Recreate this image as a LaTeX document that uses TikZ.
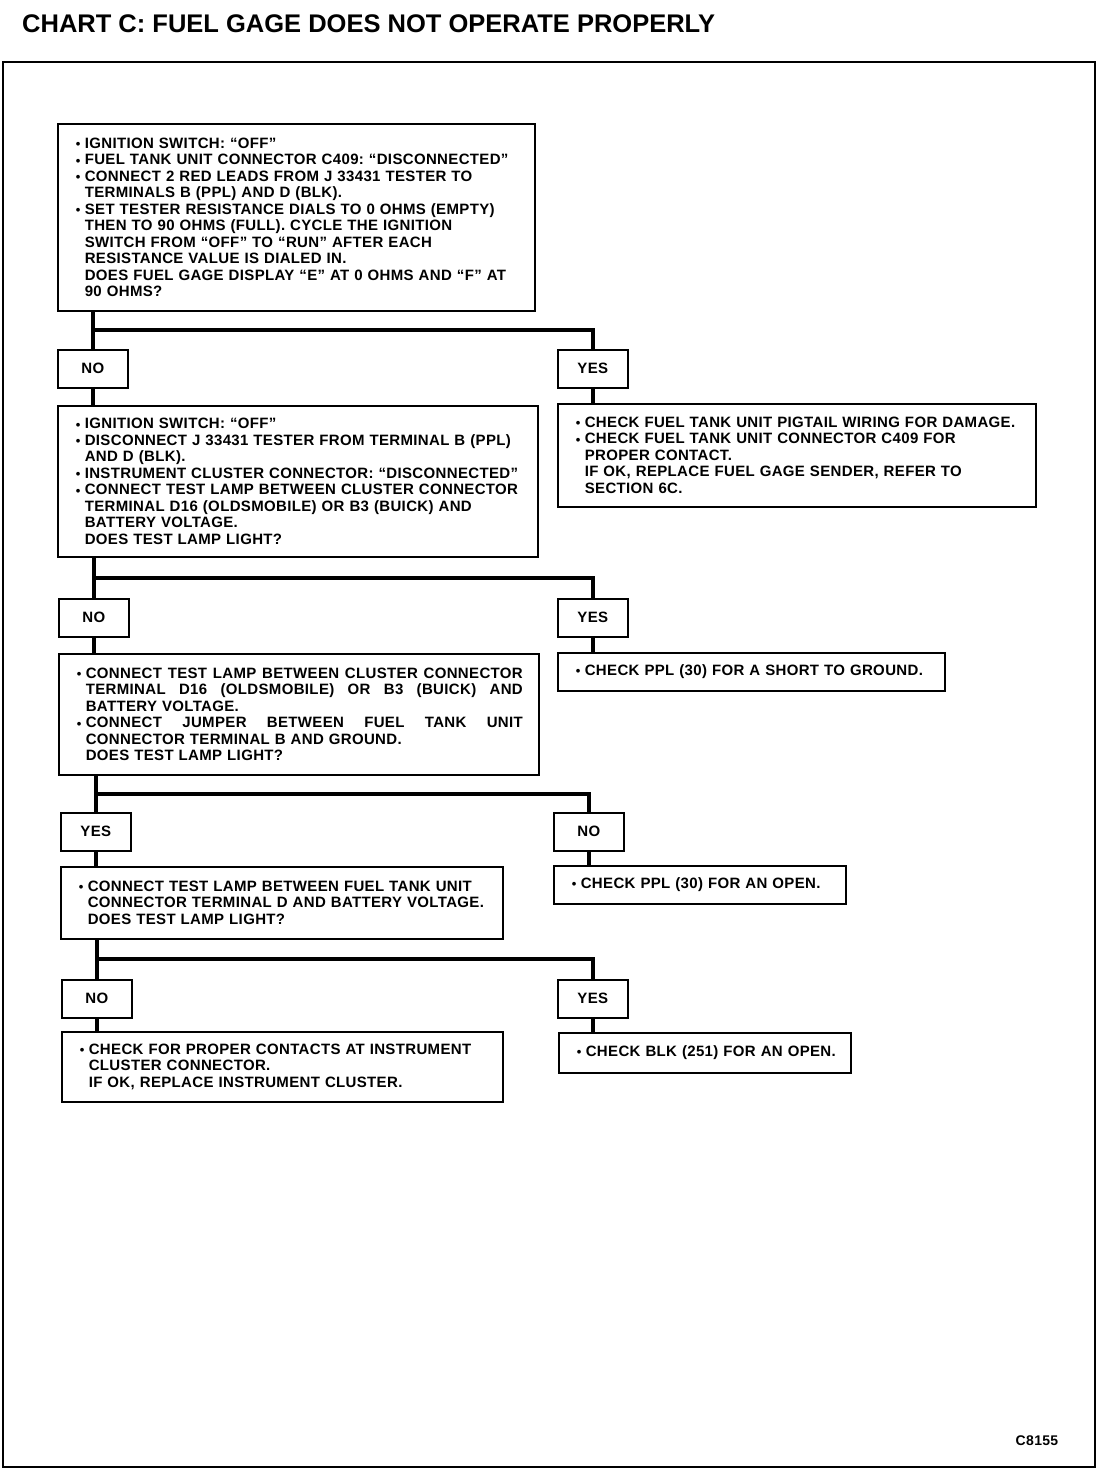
\documentclass[tikz,border=0pt]{standalone}
\usepackage{fontspec}
\setmainfont{Liberation Sans}
\newfontfamily\bodyfont[LetterSpace=2.3]{Liberation Sans}
\usetikzlibrary{calc}
\frenchspacing
\newcommand{\bl}{\makebox[9pt][l]{\raisebox{-0.3pt}{\fontsize{13}{13}\selectfont•}}}
\newcommand{\ii}{\hspace*{9pt}}
\newcommand{\jline}[2]{\makebox[#1][s]{\spaceskip=0.3em plus 3em\relax #2}}
\begin{document}
\begin{tikzpicture}[x=1pt,y=-1pt,
  every node/.style={font=\bodyfont\fontsize{15}{16.5}\selectfont\bfseries\frenchspacing},
  box/.style={draw,line width=1.6pt,anchor=north west,inner xsep=18pt,inner ysep=0pt,align=left},
  lbl/.style={draw,line width=1.6pt,anchor=north west,minimum width=70pt,minimum height=38pt,inner sep=0pt},
  conn/.style={line width=4pt}]
\useasboundingbox (0,0) rectangle (1104,1472);
\fill[white] (0,0) rectangle (1104,1472);
\node[anchor=west,inner sep=0pt,font=\rmfamily\fontsize{25.5}{28}\selectfont\bfseries] (title) at (22,24) {CHART C: FUEL GAGE DOES NOT OPERATE PROPERLY};
\draw[line width=2.6pt] (3,62) rectangle (1095,1467);
\node[inner sep=0pt,font=\bodyfont\fontsize{14}{14}\selectfont\bfseries] (code) at (1037,1441) {C8155};
% boxes
\node[box,text width=441pt,minimum height=187pt] (b1) at (57,123) {%
\bl IGNITION SWITCH: “OFF”\\
\bl FUEL TANK UNIT CONNECTOR C409: “DISCONNECTED”\\
\bl CONNECT 2 RED LEADS FROM J 33431 TESTER TO\\
\ii TERMINALS B (PPL) AND D (BLK).\\
\bl SET TESTER RESISTANCE DIALS TO 0 OHMS (EMPTY)\\
\ii THEN TO 90 OHMS (FULL). CYCLE THE IGNITION\\
\ii SWITCH FROM “OFF” TO “RUN” AFTER EACH\\
\ii RESISTANCE VALUE IS DIALED IN.\\
\ii DOES FUEL GAGE DISPLAY “E” AT 0 OHMS AND “F” AT\\
\ii 90 OHMS?};
\node[lbl] (no1) at (57,349) {NO};
\node[lbl] (yes1) at (557,349) {YES};
\node[box,text width=444pt,minimum height=151pt] (b2) at (57,405) {%
\bl IGNITION SWITCH: “OFF”\\
\bl DISCONNECT J 33431 TESTER FROM TERMINAL B (PPL)\\
\ii AND D (BLK).\\
\bl INSTRUMENT CLUSTER CONNECTOR: “DISCONNECTED”\\
\bl CONNECT TEST LAMP BETWEEN CLUSTER CONNECTOR\\
\ii TERMINAL D16 (OLDSMOBILE) OR B3 (BUICK) AND\\
\ii BATTERY VOLTAGE.\\
\ii DOES TEST LAMP LIGHT?};
\node[box,text width=442pt,minimum height=103pt] (r2) at (557,403) {%
\bl\mbox{CHECK FUEL TANK UNIT PIGTAIL WIRING FOR DAMAGE.}\\
\bl CHECK FUEL TANK UNIT CONNECTOR C409 FOR\\
\ii PROPER CONTACT.\\
\ii IF OK, REPLACE FUEL GAGE SENDER, REFER TO\\
\ii SECTION 6C.};
\node[lbl] (no2) at (58,598) {NO};
\node[lbl] (yes2) at (557,598) {YES};
\node[box,text width=444pt,minimum height=121pt] (b3) at (58,653) {%
\bl\jline{437pt}{CONNECT TEST LAMP BETWEEN CLUSTER CONNECTOR}\\
\ii\jline{437pt}{TERMINAL D16 (OLDSMOBILE) OR B3 (BUICK) AND}\\
\ii BATTERY VOLTAGE.\\
\bl\jline{437pt}{CONNECT JUMPER BETWEEN FUEL TANK UNIT}\\
\ii CONNECTOR TERMINAL B AND GROUND.\\
\ii DOES TEST LAMP LIGHT?};
\node[box,text width=351pt,minimum height=38pt] (r3) at (557,652) {%
\bl\mbox{CHECK PPL (30) FOR A SHORT TO GROUND.}};
\node[lbl] (yes3) at (60,812) {YES};
\node[lbl] (no3) at (553,812) {NO};
\node[box,text width=406pt,minimum height=72pt] (b4) at (60,866) {%
\bl CONNECT TEST LAMP BETWEEN FUEL TANK UNIT\\
\ii CONNECTOR TERMINAL D AND BATTERY VOLTAGE.\\
\ii DOES TEST LAMP LIGHT?};
\node[box,text width=256pt,minimum height=38pt] (r4) at (553,865) {%
\bl\mbox{CHECK PPL (30) FOR AN OPEN.}};
\node[lbl] (no4) at (61,979) {NO};
\node[lbl] (yes4) at (557,979) {YES};
\node[box,text width=405pt,minimum height=70pt] (b5) at (61,1031) {%
\bl CHECK FOR PROPER CONTACTS AT INSTRUMENT\\
\ii CLUSTER CONNECTOR.\\
\ii IF OK, REPLACE INSTRUMENT CLUSTER.};
\node[box,text width=256pt,minimum height=40pt] (r5) at (558,1032) {%
\bl\mbox{CHECK BLK (251) FOR AN OPEN.}};
% connectors
\foreach \a/\l/\r/\bl/\br in {b1/no1/yes1/b2/r2, b2/no2/yes2/b3/r3, b3/yes3/no3/b4/r4, b4/no4/yes4/b5/r5}{
  \draw[conn] (\a.south -| \l) -- (\l.north);
  \draw[conn] ($(\a.south -| \l)!0.5!(\l.north)$) -| (\r.north);
  \draw[conn] (\l.south) -- (\l.south |- \bl.north);
  \draw[conn] (\r.south) -- (\r.south |- \br.north);
}
\end{tikzpicture}
\end{document}
